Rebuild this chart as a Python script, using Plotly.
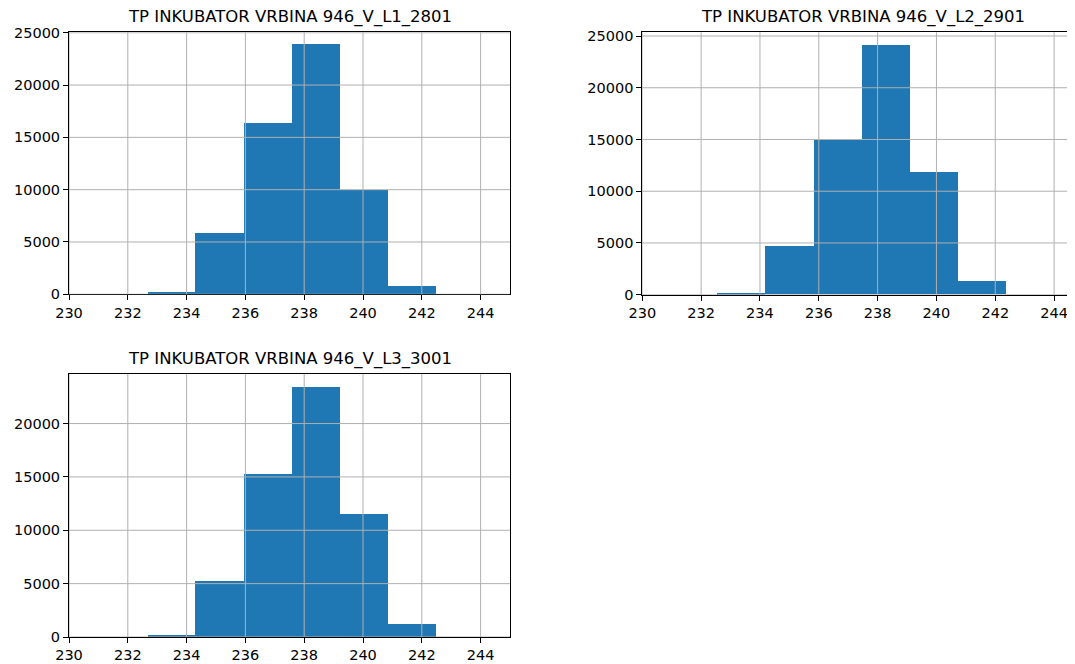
import numpy as np
import plotly.graph_objects as go

# ---- data ----
titles = ["TP INKUBATOR VRBINA 946_V_L1_2801",
          "TP INKUBATOR VRBINA 946_V_L2_2901",
          "TP INKUBATOR VRBINA 946_V_L3_3001"]

edges_l1 = [232.67, 234.30, 235.95, 237.59, 239.22, 240.85, 242.48]
counts_l1 = [200, 5800, 16350, 23850, 9950, 770]

edges_l2 = [232.54, 234.17, 235.84, 237.47, 239.10, 240.74, 242.37]
counts_l2 = [130, 4700, 14960, 24150, 11870, 1255]

edges_l3 = [232.67, 234.30, 235.95, 237.59, 239.22, 240.85, 242.48]
counts_l3 = [220, 5220, 15310, 23470, 11560, 1190]

x_ticks = [230, 232, 234, 236, 238, 240, 242, 244]
y_ticks_l1 = [0, 5000, 10000, 15000, 20000, 25000]
y_ticks_l2 = [0, 5000, 10000, 15000, 20000, 25000]
y_ticks_l3 = [0, 5000, 10000, 15000, 20000]

# ---- layout geometry (window pixels; page body has an 8px offset) ----
OFF = 8
W, H = 1075 - OFF, 664 - OFF
panels = [
    dict(edges=edges_l1, counts=counts_l1, yt=y_ticks_l1, box=(69, 510, 32.3, 294.3), xr=[230, 245], right=True),
    dict(edges=edges_l2, counts=counts_l2, yt=y_ticks_l2, box=(642.3, 1075, 32.3, 294.7), xr=[230, 244.71], right=False),
    dict(edges=edges_l3, counts=counts_l3, yt=y_ticks_l3, box=(69, 510, 374, 637), xr=[230, 245], right=True),
]

BLUE = "#1f77b4"
GRID = "#b0b0b0"
FONT = "DejaVu Sans"

fig = go.Figure()
shapes = []
annotations = []

for i, p in enumerate(panels, start=1):
    e = np.array(p["edges"])
    c = np.array(p["counts"])
    centers = (e[:-1] + e[1:]) / 2
    widths = np.diff(e)
    xa = "x" if i == 1 else f"x{i}"
    ya = "y" if i == 1 else f"y{i}"
    fig.add_trace(go.Bar(x=centers, y=c, width=widths, marker=dict(color=BLUE, line=dict(width=0)),
                         xaxis=xa, yaxis=ya, showlegend=False, hoverinfo="x+y"))
    l, r, t, b = [v - OFF for v in p["box"]]
    xd = [l / W, min(r / W, 1.0)]
    yd = [1 - b / H, 1 - t / H]
    ymax = max(p["counts"]) * 1.05
    axkey = "xaxis" if i == 1 else f"xaxis{i}"
    aykey = "yaxis" if i == 1 else f"yaxis{i}"
    fig.layout[axkey] = dict(domain=xd, range=p["xr"], anchor=ya, tickvals=x_ticks, automargin=False,
                             showgrid=False, zeroline=False, showline=True, linecolor="black",
                             linewidth=1, mirror=True, ticks="outside", ticklen=5, tickcolor="black",
                             tickwidth=1, tickfont=dict(family=FONT, size=14.5, color="black"))
    fig.layout[aykey] = dict(domain=yd, range=[0, ymax], anchor=xa, tickvals=p["yt"], tickformat="d",
                             automargin=False,
                             showgrid=False, zeroline=False, showline=True, linecolor="black",
                             linewidth=1, mirror=p["right"], ticks="outside", ticklen=5, tickcolor="black",
                             tickwidth=1, tickfont=dict(family=FONT, size=14.5, color="black"))
    xref = xa
    yref = ya
    for xv in x_ticks:
        if p["xr"][0] <= xv <= p["xr"][1]:
            shapes.append(dict(type="line", xref=xref, yref=f"{yref} domain", x0=xv, x1=xv, y0=0, y1=1,
                               line=dict(color=GRID, width=1), layer="above"))
    for yv in p["yt"]:
        shapes.append(dict(type="line", xref=f"{xref} domain", yref=yref, x0=0, x1=1, y0=yv, y1=yv,
                           line=dict(color=GRID, width=1), layer="above"))
    annotations.append(dict(text=titles[i - 1], xref="paper", yref="paper",
                            x=(l + (l + 441)) / 2 / W, y=1 - (t - 15) / H,
                            xanchor="center", yanchor="middle", showarrow=False,
                            font=dict(family=FONT, size=16.5, color="black")))

fig.update_layout(width=W, height=H, margin=dict(l=0, r=0, t=0, b=0, autoexpand=False),
                  paper_bgcolor="white", plot_bgcolor="white", bargap=0,
                  shapes=shapes, annotations=annotations)

fig.write_html("out.html", config={"displayModeBar": False})
